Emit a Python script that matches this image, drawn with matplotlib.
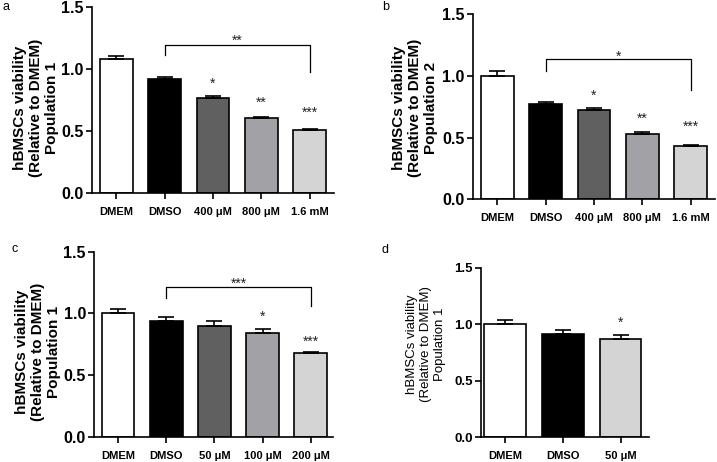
import numpy as np
import matplotlib
matplotlib.use("Agg")
import matplotlib.pyplot as plt

plt.rcParams['font.family'] = ['Liberation Sans', 'DejaVu Sans']

# panel a
a_labels = ['DMEM', 'DMSO', '400 μM', '800 μM', '1.6 mM']
a_means = [1.082, 0.920, 0.769, 0.607, 0.510]
a_err = [0.024, 0.016, 0.016, 0.008, 0.008]
a_stars = ['', '', '*', '**', '***']
a_star_y = [0, 0, 0.93, 0.77, 0.69]

# panel b
b_labels = ['DMEM', 'DMSO', '400 μM', '800 μM', '1.6 mM']
b_means = [1.000, 0.775, 0.725, 0.529, 0.432]
b_err = [0.035, 0.012, 0.018, 0.012, 0.010]
b_stars = ['', '', '*', '**', '***']
b_star_y = [0, 0, 0.885, 0.70, 0.634]

# panel c
c_labels = ['DMEM', 'DMSO', '50 μM', '100 μM', '200 μM']
c_means = [1.000, 0.940, 0.900, 0.845, 0.683]
c_err = [0.040, 0.034, 0.040, 0.027, 0.008]
c_stars = ['', '', '', '*', '***']
c_star_y = [0, 0, 0, 1.015, 0.818]

# panel d
d_labels = ['DMEM', 'DMSO', '50 μM']
d_means = [1.000, 0.910, 0.865]
d_err = [0.035, 0.038, 0.036]
d_stars = ['', '', '*']
d_star_y = [0, 0, 1.06]

grey5 = ['white', 'black', '#606060', '#a2a2a6', '#d4d4d4']
grey3 = ['white', 'black', '#d4d4d4']

fig = plt.figure(figsize=(7.17, 4.62), dpi=100)


def panel(rect, labels, means, err, colors, stars, star_y, xlim, width,
          ytick_size, bracket=None):
    ax = fig.add_axes(rect)
    x = np.arange(len(means))
    ax.bar(x, means, width=width, color=colors, edgecolor='black',
           linewidth=1.2, zorder=2)
    ax.errorbar(x, means, yerr=[np.zeros(len(err)), err], fmt='none',
                ecolor='black', elinewidth=1.2, capsize=6, capthick=1.2,
                zorder=3)
    for xi, s, sy in zip(x, stars, star_y):
        if s:
            ax.annotate(s, (xi, sy), xytext=(0, -4), textcoords='offset points',
                        ha='center', va='center', fontsize=10, color='#222222')
    if bracket:
        i0, i1, y_top, y_l, y_r, s, sy = bracket
        ax.plot([i0, i0, i1, i1], [y_l, y_top, y_top, y_r], color='black',
                linewidth=0.9, zorder=3)
        ax.annotate(s, ((i0 + i1) / 2, sy), xytext=(0, -4),
                    textcoords='offset points', ha='center', va='center',
                    fontsize=10, color='#222222')
    ax.set_xlim(*xlim)
    ax.set_ylim(0, 1.5)
    ax.set_yticks([0, 0.5, 1.0, 1.5])
    ax.set_yticklabels(['0.0', '0.5', '1.0', '1.5'], fontsize=ytick_size,
                       fontweight='bold')
    ax.set_xticks(x)
    ax.set_xticklabels(labels, fontsize=8, fontweight='bold')
    for sp in ['top', 'right']:
        ax.spines[sp].set_visible(False)
    for sp in ['left', 'bottom']:
        ax.spines[sp].set_linewidth(1.2)
    ax.tick_params(axis='both', length=4, width=1.2, pad=2)
    ax.tick_params(axis='x', pad=6)
    return ax


panel([0.1283, 0.5823, 0.3375, 0.4019], a_labels, a_means, a_err, grey5,
      a_stars, a_star_y, (-0.5, 4.5), 0.68, 11.5,
      bracket=(1, 4, 1.195, 1.117, 0.979, '**', 1.276))
panel([0.6597, 0.5686, 0.3375, 0.4011], b_labels, b_means, b_err, grey5,
      b_stars, b_star_y, (-0.5, 4.5), 0.68, 11.5,
      bracket=(1, 4, 1.136, 1.04, 0.885, '*', 1.195))
panel([0.1315, 0.0541, 0.3329, 0.4011], c_labels, c_means, c_err, grey5,
      c_stars, c_star_y, (-0.49, 4.46), 0.68, 11.5,
      bracket=(1, 4, 1.217, 1.123, 1.06, '***', 1.285))
panel([0.6709, 0.0535, 0.2347, 0.3671], d_labels, d_means, d_err, grey3,
      d_stars, d_star_y, (-0.42, 2.5), 0.72, 9.5)

ylab1 = 'hBMSCs viability\n(Relative to DMEM)\nPopulation 1'
ylab2 = 'hBMSCs viability\n(Relative to DMEM)\nPopulation 2'
fig.text(36 / 717, 1 - 108 / 462, ylab1, rotation=90, ha='center',
         va='center', fontsize=11, fontweight='bold', linespacing=1.15)
fig.text(415 / 717, 1 - 108 / 462, ylab2, rotation=90, ha='center',
         va='center', fontsize=11, fontweight='bold', linespacing=1.15)
fig.text(38 / 717, 1 - 352 / 462, ylab1, rotation=90, ha='center',
         va='center', fontsize=11, fontweight='bold', linespacing=1.15)
fig.text(426 / 717, 1 - 344 / 462, ylab1, rotation=90, ha='center',
         va='center', fontsize=9.5, linespacing=1.2)

for s, px, py in [('a', 3, 10), ('b', 382, 10), ('c', 11, 252), ('d', 382, 253)]:
    fig.text(px / 717, 1 - py / 462, s, fontsize=9, va='baseline')

fig.savefig('out.png', dpi=100)
